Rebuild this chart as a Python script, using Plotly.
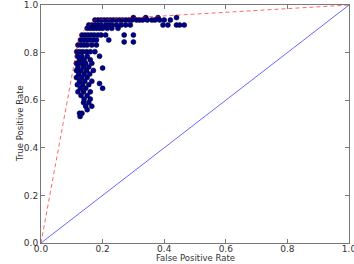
import plotly.graph_objects as go

# ROC scatter points, grouped by true positive rate level
tpr_levels = [0.947, 0.937, 0.916, 0.902, 0.874, 0.853, 0.845, 0.832, 0.804,
              0.785, 0.77, 0.755, 0.74, 0.735, 0.725, 0.71, 0.695, 0.68, 0.67,
              0.665, 0.65, 0.635, 0.62, 0.605, 0.59, 0.575, 0.56, 0.545, 0.532]
fpr_rows = [
    [0.30, 0.34, 0.38, 0.44],
    [0.175, 0.185, 0.195, 0.205, 0.215, 0.225, 0.235, 0.245, 0.255, 0.265, 0.275,
     0.285, 0.295, 0.31, 0.32, 0.33, 0.345, 0.36, 0.37, 0.385, 0.40, 0.42],
    [0.155, 0.165, 0.175, 0.185, 0.195, 0.21, 0.22, 0.23, 0.245, 0.26, 0.275, 0.29,
     0.396, 0.412, 0.44, 0.45, 0.465],
    [0.15, 0.16, 0.17, 0.18, 0.19, 0.20, 0.215, 0.23, 0.25],
    [0.133, 0.143, 0.153, 0.163, 0.173, 0.185, 0.195, 0.21, 0.27, 0.30],
    [0.128, 0.138, 0.148, 0.158, 0.17, 0.18, 0.22],
    [0.27, 0.30],
    [0.12, 0.13, 0.14, 0.15, 0.165, 0.18],
    [0.116, 0.126, 0.136, 0.148, 0.16, 0.175],
    [0.118, 0.132, 0.15, 0.19],
    [0.125, 0.14, 0.16],
    [0.115, 0.13, 0.145, 0.165],
    [0.12, 0.138, 0.155],
    [0.20],
    [0.115, 0.13, 0.148, 0.17],
    [0.122, 0.14, 0.158],
    [0.115, 0.132, 0.15],
    [0.125, 0.142, 0.165],
    [0.19],
    [0.118, 0.135, 0.155],
    [0.128, 0.145, 0.20],
    [0.12, 0.138, 0.16],
    [0.13, 0.15],
    [0.14, 0.16],
    [0.138, 0.155],
    [0.145, 0.165],
    [0.15],
    [0.125, 0.133],
    [0.127],
]

# Convex hull of the ROC points
hull_fpr = [0.0, 0.125, 0.175, 1.0]
hull_tpr = [0.0, 0.875, 0.937, 1.0]

# Chance diagonal
diag = [0.0, 1.0]

x_ticks = [0.0, 0.2, 0.4, 0.6, 0.8, 1.0]
y_ticks = [0.0, 0.2, 0.4, 0.6, 0.8, 1.0]
x_title = "False Positive Rate"
y_title = "True Positive Rate"

pts_x, pts_y = [], []
for t, row in zip(tpr_levels, fpr_rows):
    for f in row:
        pts_x.append(f)
        pts_y.append(t)

fig = go.Figure()
fig.add_trace(go.Scatter(
    x=diag, y=diag, mode="lines",
    line=dict(color="rgba(0,0,255,0.6)", width=1), hoverinfo="skip"))
fig.add_trace(go.Scatter(
    x=pts_x, y=pts_y, mode="markers",
    marker=dict(size=5, color="#00008b", line=dict(color="#000030", width=0.5))))
fig.add_trace(go.Scatter(
    x=hull_fpr, y=hull_tpr, mode="lines",
    line=dict(color="rgba(255,0,0,0.6)", width=1, dash="4px,3px")))

axis_common = dict(
    range=[0, 1], showgrid=False, zeroline=False, showline=True, mirror="ticks",
    linecolor="#777777", linewidth=1, ticks="inside", ticklen=4, tickcolor="#777777",
    tickformat=".1f", ticklabeloverflow="allow", automargin=False,
    tickfont=dict(family="DejaVu Sans", size=9, color="#333333"),
)
fig.update_xaxes(**axis_common, tickvals=x_ticks, ticklabelstandoff=-3)
fig.update_yaxes(**axis_common, tickvals=y_ticks)

title_font = dict(family="DejaVu Sans", size=8.5, color="#333333")
fig.add_annotation(text=x_title, xref="paper", yref="paper", x=0.5, y=0,
                   xanchor="center", yanchor="bottom", yshift=-21, borderpad=0,
                   showarrow=False, font=title_font)
fig.add_annotation(text=y_title, xref="paper", yref="paper", x=0, y=0.5,
                   xanchor="center", yanchor="middle", xshift=-21, textangle=-90,
                   borderpad=0, showarrow=False, font=title_font)

fig.update_layout(
    width=354, height=264, showlegend=False,
    margin=dict(l=41, r=5, t=5, b=21),
    plot_bgcolor="white", paper_bgcolor="white",
)
fig.write_html("out.html")
